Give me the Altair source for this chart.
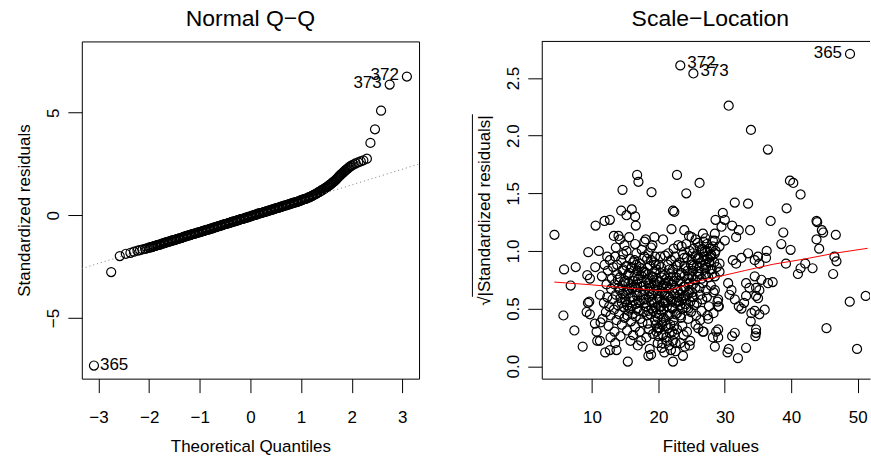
import altair as alt
import pandas as pd

FONT = "Liberation Sans"

# ---------------- Normal Q-Q data ----------------
qq_low_x = [-3.09, -2.75, -2.58, -2.46, -2.37, -2.30, -2.23, -2.18, -2.13, -2.08, -2.04]
qq_low_y = [-7.31, -2.76, -1.98, -1.87, -1.82, -1.77, -1.72, -1.69, -1.66, -1.63, -1.60]

qq_mid_x = [-2.00, -1.96, -1.92, -1.88, -1.84, -1.80, -1.76, -1.72, -1.68, -1.64,
            -1.60, -1.56, -1.52, -1.48, -1.44, -1.40, -1.36, -1.32, -1.28, -1.24,
            -1.20, -1.16, -1.12, -1.08, -1.04, -1.00, -0.96, -0.92, -0.88, -0.84,
            -0.80, -0.76, -0.72, -0.68, -0.64, -0.60, -0.56, -0.52, -0.48, -0.44,
            -0.40, -0.36, -0.32, -0.28, -0.24, -0.20, -0.16, -0.12, -0.08, -0.04,
            0.00, 0.04, 0.08, 0.12, 0.16, 0.20, 0.24, 0.28, 0.32, 0.36,
            0.40, 0.44, 0.48, 0.52, 0.56, 0.60, 0.64, 0.68, 0.72, 0.76,
            0.80, 0.84, 0.88, 0.92, 0.96, 1.00, 1.04, 1.08, 1.12, 1.16,
            1.20, 1.24, 1.28, 1.32, 1.36, 1.40, 1.44, 1.48, 1.52, 1.56,
            1.60, 1.64, 1.68, 1.72, 1.76, 1.80, 1.84, 1.88, 1.92, 1.96, 2.00]
qq_mid_y = [-1.57, -1.55, -1.52, -1.49, -1.45, -1.42, -1.40, -1.36, -1.33, -1.30,
            -1.27, -1.24, -1.21, -1.18, -1.15, -1.12, -1.09, -1.05, -1.02, -0.99,
            -0.96, -0.93, -0.90, -0.87, -0.84, -0.81, -0.78, -0.75, -0.72, -0.69,
            -0.66, -0.63, -0.60, -0.57, -0.53, -0.50, -0.47, -0.44, -0.41, -0.38,
            -0.35, -0.32, -0.29, -0.26, -0.23, -0.20, -0.17, -0.14, -0.11, -0.08,
            -0.05, -0.01, 0.02, 0.05, 0.08, 0.11, 0.14, 0.17, 0.20, 0.23,
            0.26, 0.29, 0.32, 0.35, 0.38, 0.41, 0.45, 0.48, 0.51, 0.54,
            0.57, 0.60, 0.63, 0.66, 0.69, 0.74, 0.77, 0.80, 0.84, 0.88,
            0.93, 0.98, 1.03, 1.09, 1.15, 1.21, 1.27, 1.33, 1.40, 1.47,
            1.55, 1.63, 1.72, 1.82, 1.92, 2.02, 2.11, 2.20, 2.28, 2.36, 2.43]

qq_mid2_x = [-1.98, -1.94, -1.90, -1.86, -1.82, -1.78, -1.74, -1.70, -1.66, -1.62,
             -1.58, -1.54, -1.50, -1.46, -1.42, -1.38, -1.34, -1.30, -1.26, -1.22,
             -1.18, -1.14, -1.10, -1.06, -1.02, -0.98, -0.94, -0.90, -0.86, -0.82,
             -0.78, -0.74, -0.70, -0.66, -0.62, -0.58, -0.54, -0.50, -0.46, -0.42,
             -0.38, -0.34, -0.30, -0.26, -0.22, -0.18, -0.14, -0.10, -0.06, -0.02,
             0.02, 0.06, 0.10, 0.14, 0.18, 0.22, 0.26, 0.30, 0.34, 0.38,
             0.42, 0.46, 0.50, 0.54, 0.58, 0.62, 0.66, 0.70, 0.74, 0.78,
             0.82, 0.86, 0.90, 0.94, 0.98, 1.02, 1.06, 1.10, 1.14, 1.18,
             1.22, 1.26, 1.30, 1.34, 1.38, 1.42, 1.46, 1.50, 1.54, 1.58,
             1.62, 1.66, 1.70, 1.74, 1.78, 1.82, 1.86, 1.90, 1.94, 1.98]
qq_mid2_y = [-1.56, -1.53, -1.50, -1.47, -1.44, -1.41, -1.38, -1.35, -1.31, -1.28,
             -1.26, -1.22, -1.20, -1.16, -1.13, -1.11, -1.07, -1.04, -1.00, -0.98,
             -0.95, -0.91, -0.89, -0.85, -0.83, -0.80, -0.76, -0.74, -0.70, -0.68,
             -0.64, -0.62, -0.58, -0.55, -0.52, -0.49, -0.46, -0.42, -0.40, -0.36,
             -0.34, -0.30, -0.28, -0.24, -0.22, -0.18, -0.16, -0.12, -0.10, -0.06,
             -0.03, 0.00, 0.03, 0.07, 0.10, 0.12, 0.16, 0.18, 0.21, 0.25,
             0.27, 0.30, 0.34, 0.36, 0.40, 0.43, 0.46, 0.49, 0.52, 0.56,
             0.58, 0.62, 0.64, 0.67, 0.71, 0.75, 0.79, 0.82, 0.86, 0.90,
             0.95, 1.00, 1.06, 1.12, 1.18, 1.24, 1.30, 1.36, 1.43, 1.51,
             1.59, 1.67, 1.77, 1.87, 1.97, 2.06, 2.15, 2.24, 2.32, 2.40]

qq_high_x = [2.04, 2.08, 2.13, 2.18, 2.23, 2.30, 2.37, 2.46, 2.58, 2.75, 3.09]
qq_high_y = [2.48, 2.53, 2.58, 2.63, 2.68, 2.76, 3.53, 4.19, 5.10, 6.37, 6.76]

qq_line_x = [-3.33, 3.33]
qq_line_y = [-2.59, 2.50]

qq_lab_left_text = ["365"]
qq_lab_left_x = [-3.09]
qq_lab_left_y = [-7.31]
qq_lab_right_text = ["372", "373"]
qq_lab_right_x = [3.09, 2.75]
qq_lab_right_y = [6.76, 6.37]

qq_x_ticks = [-3, -2, -1, 0, 1, 2, 3]
qq_y_ticks = [-5, 0, 5]

# ---------------- Scale-Location data ----------------
sparse_x = [23.3, 25.27, 48.84, 30.58, 33.93, 36.48, 39.8, 40.3, 41.4, 39.3,
            36.9, 33.5, 31.5, 33.8, 43.8, 43.9, 44.6, 44.8, 43.8, 44.2,
            46.7, 38.8, 38.5, 39.9, 36.3, 46.5, 46.8, 46.3, 42.1, 41.4,
            41.0, 43.2, 39.2, 37.2, 48.8, 51.2, 45.3, 49.9, 4.36, 5.81,
            7.56, 6.8, 5.71, 7.36, 8.61, 9.45, 9.3, 9.6, 9.2, 9.7,
            10.55, 11.05, 10.5, 10.7, 10.8, 11.3, 11.9, 12.7, 12.3, 12.0,
            12.7, 13.3, 13.7, 14.6, 14.4, 15.4, 16.0, 16.5, 16.6, 16.8,
            17.0, 18.97, 22.8, 24.2, 26.2, 22.2, 22.4, 21.97, 23.9, 24.6,
            19.4, 20.7, 23.0, 25.6, 26.7, 28.5, 28.6, 29.7, 30.0, 31.1,
            32.1, 31.7, 18.5, 18.9, 22.2, 21.9, 23.7, 24.0, 24.7, 28.5,
            30.4, 30.6, 31.97, 33.2, 28.7, 29.0, 31.1, 31.5, 33.9, 34.7,
            34.6, 35.2, 36.0, 35.0, 34.7, 35.5, 34.5, 29.1, 28.9, 27.4,
            26.7, 26.0, 32.5, 32.1, 32.9, 33.2]
sparse_y = [2.61, 2.54, 2.71, 2.26, 2.05, 1.88, 1.61, 1.59, 1.49, 1.37,
            1.26, 1.41, 1.42, 1.18, 1.26, 1.25, 1.18, 1.16, 1.10, 1.02,
            1.14, 1.16, 1.06, 1.01, 1.00, 0.95, 0.91, 0.80, 0.89, 0.85,
            0.80, 0.85, 0.89, 0.73, 0.56, 0.61, 0.33, 0.15, 1.14, 0.84,
            0.86, 0.70, 0.44, 0.31, 0.17, 0.99, 0.79, 0.56, 0.47, 0.45,
            1.22, 1.00, 0.86, 0.30, 0.22, 0.38, 1.26, 1.27, 0.95, 0.12,
            0.14, 1.13, 0.14, 1.53, 1.35, 0.04, 1.36, 1.30, 1.22, 1.66,
            1.60, 1.51, 1.66, 1.50, 1.59, 1.35, 1.34, 1.19, 1.18, 1.13,
            1.12, 1.10, 1.05, 1.10, 1.15, 1.15, 1.27, 1.33, 1.27, 1.22,
            1.18, 1.12, 0.09, 0.10, 0.04, 0.14, 0.09, 0.17, 0.18, 0.17,
            0.12, 0.15, 0.07, 0.16, 0.30, 0.25, 0.26, 0.29, 0.39, 0.29,
            0.26, 0.45, 0.49, 0.59, 0.68, 0.75, 0.48, 0.52, 0.56, 0.44,
            0.30, 0.33, 0.50, 0.52, 0.55, 0.61]

cluster_x = [11.2, 11.5, 11.8, 11.9, 12.1, 12.2, 11.6, 12.3,
             12.4, 12.6, 12.7, 12.8, 12.9, 13.0, 12.5, 13.1, 12.8, 13.2,
             13.3, 13.4, 13.5, 13.6, 13.7, 13.8, 13.9, 13.4, 13.6, 14.0, 13.8, 13.5,
             14.1, 14.2, 14.3, 14.4, 14.5, 14.6, 14.7, 14.8, 14.9, 14.3, 14.6, 14.9, 14.2, 14.7,
             15.0, 15.1, 15.2, 15.3, 15.4, 15.5, 15.6, 15.7, 15.8, 15.9, 15.2, 15.5, 15.8, 15.3, 15.9, 15.6,
             16.0, 16.1, 16.2, 16.3, 16.4, 16.5, 16.6, 16.7, 16.8, 16.9, 16.2, 16.5, 16.8, 16.1, 16.6, 16.9,
             17.0, 17.1, 17.2, 17.3, 17.4, 17.5, 17.6, 17.7, 17.8, 17.9, 17.2, 17.5, 17.8, 17.4, 17.9, 17.1, 17.6,
             18.0, 18.1, 18.2, 18.3, 18.4, 18.5, 18.6, 18.7, 18.8, 18.9, 18.2, 18.5, 18.8, 18.3, 18.6, 18.9, 18.1, 18.7,
             19.0, 19.1, 19.2, 19.3, 19.4, 19.5, 19.6, 19.7, 19.8, 19.9, 19.2, 19.5, 19.8, 19.3, 19.6, 19.9, 19.1, 19.7, 19.4,
             20.0, 20.1, 20.2, 20.3, 20.4, 20.5, 20.6, 20.7, 20.8, 20.9, 20.2, 20.5, 20.8, 20.3, 20.6, 20.9, 20.1, 20.4, 20.7, 20.5,
             21.0, 21.1, 21.2, 21.3, 21.4, 21.5, 21.6, 21.7, 21.8, 21.9, 21.2, 21.5, 21.8, 21.3, 21.6, 21.9, 21.1, 21.7,
             22.0, 22.1, 22.2, 22.3, 22.4, 22.5, 22.6, 22.7, 22.8, 22.9, 22.2, 22.5, 22.8, 22.3, 22.6, 22.9, 22.4,
             23.0, 23.1, 23.2, 23.3, 23.4, 23.5, 23.6, 23.7, 23.8, 23.9, 23.3, 23.6, 23.9, 23.2, 23.5, 23.8,
             24.0, 24.1, 24.2, 24.3, 24.4, 24.5, 24.6, 24.7, 24.8, 24.9, 24.3, 24.6, 24.9, 24.2, 24.8,
             25.0, 25.1, 25.2, 25.3, 25.4, 25.5, 25.6, 25.7, 25.8, 25.9, 25.3, 25.6, 25.9, 25.2, 25.8,
             26.0, 26.1, 26.2, 26.3, 26.4, 26.5, 26.6, 26.7, 26.8, 26.9, 26.3, 26.6, 26.9, 26.2, 26.8,
             27.0, 27.1, 27.2, 27.3, 27.4, 27.5, 27.6, 27.7, 27.8, 27.9, 27.3, 27.6, 27.9, 27.1, 27.5,
             28.0, 28.1, 28.2, 28.3, 28.4, 28.6, 28.8, 28.3]
cluster_y = [0.62, 0.78, 0.55, 0.88, 0.47, 0.71, 0.41, 0.60,
             0.83, 0.52, 0.92, 0.44, 0.67, 0.76, 0.35, 0.58, 0.25, 0.86,
             0.49, 0.71, 0.95, 0.62, 0.40, 0.80, 0.53, 0.30, 1.03, 0.68, 0.88, 0.20,
             0.45, 0.77, 0.59, 0.92, 0.36, 0.70, 0.84, 0.51, 1.05, 0.26, 0.63, 0.42, 1.10, 0.97,
             0.74, 0.56, 0.87, 0.31, 0.66, 0.48, 0.81, 0.93, 0.60, 0.39, 1.00, 0.72, 0.22, 0.53, 0.85, 1.12,
             0.68, 0.45, 0.90, 0.57, 0.78, 0.34, 0.64, 0.98, 0.50, 0.83, 0.27, 1.06, 0.71, 0.60, 0.43, 0.18,
             0.76, 0.55, 0.89, 0.41, 0.69, 1.01, 0.62, 0.82, 0.47, 0.95, 0.30, 0.73, 0.58, 0.22, 1.08, 0.86, 0.38,
             0.66, 0.81, 0.52, 0.93, 0.37, 0.72, 0.60, 0.87, 0.45, 1.03, 0.25, 0.98, 0.68, 0.75, 0.32, 0.56, 1.10, 0.15,
             0.62, 0.77, 0.48, 0.90, 0.55, 0.70, 0.36, 0.84, 0.58, 0.42, 0.28, 0.95, 0.74, 0.66, 0.51, 0.20, 1.05, 0.30, 0.82,
             0.60, 0.45, 0.73, 0.52, 0.86, 0.38, 0.64, 0.27, 0.55, 0.79, 0.33, 0.68, 0.42, 0.95, 0.20, 0.57, 0.88, 0.48, 0.70, 0.16,
             0.63, 0.40, 0.76, 0.52, 0.88, 0.33, 0.67, 0.45, 0.80, 0.58, 0.25, 0.98, 0.36, 0.70, 0.18, 0.92, 0.55, 0.29,
             0.71, 0.50, 0.84, 0.40, 0.63, 0.95, 0.55, 0.77, 0.32, 0.88, 0.22, 0.68, 0.46, 1.02, 0.13, 0.60, 0.28,
             0.74, 0.56, 0.90, 0.44, 0.66, 0.81, 0.35, 0.97, 0.59, 0.78, 0.20, 0.50, 0.87, 0.62, 1.04, 0.27,
             0.69, 0.85, 0.51, 0.94, 0.62, 0.41, 0.79, 1.00, 0.56, 0.88, 0.30, 0.72, 0.47, 1.06, 0.22,
             0.92, 0.64, 0.83, 1.02, 0.53, 0.75, 0.96, 0.44, 0.87, 1.07, 0.60, 0.36, 0.78, 0.98, 0.55,
             0.94, 0.80, 1.04, 0.62, 0.90, 0.48, 0.99, 0.72, 1.08, 0.85, 0.40, 0.58, 0.95, 0.68, 0.30,
             1.00, 0.88, 0.66, 1.06, 0.93, 0.77, 0.52, 1.02, 0.84, 0.97, 0.60, 0.90, 0.70, 1.11, 0.41,
             0.96, 0.80, 1.04, 0.64, 0.90, 1.00, 0.86, 0.46]

core_x = [14.2, 14.8, 15.1, 15.4, 15.7, 16.0, 16.3, 16.6, 16.9, 17.2,
          17.5, 17.8, 18.1, 18.4, 18.7, 19.0, 19.3, 19.6, 19.9, 20.2,
          20.5, 20.8, 21.1, 21.4, 21.7, 22.0, 22.3, 22.6, 22.9, 23.2,
          23.5, 23.8, 24.1, 24.4, 24.7, 25.0, 25.3, 25.6, 25.9, 26.2,
          26.5, 26.8, 27.1, 27.4, 27.7, 28.0, 13.9, 14.5, 15.8, 17.0,
          18.3, 19.5, 20.6, 21.5, 22.4, 23.4, 24.5, 16.4, 18.9, 21.0,
          20.0, 21.3, 19.8, 22.1, 20.9, 22.6]
core_y = [0.66, 0.73, 0.62, 0.79, 0.50, 0.86, 0.69, 0.54, 0.75, 0.64,
          0.85, 0.70, 0.58, 0.80, 0.65, 0.50, 0.72, 0.88, 0.63, 0.58,
          0.77, 0.49, 0.69, 0.61, 0.84, 0.56, 0.74, 0.45, 0.66, 0.79,
          0.58, 0.69, 0.61, 0.83, 0.66, 0.78, 0.87, 0.68, 0.93, 0.85,
          0.76, 0.92, 0.80, 1.00, 0.90, 0.84, 0.75, 0.55, 0.70, 0.48,
          0.44, 0.40, 0.36, 0.44, 0.35, 0.42, 0.50, 0.92, 0.92, 0.96,
          0.26, 0.22, 0.33, 0.30, 0.12, 0.20]

core2_x = [15.0, 15.6, 16.2, 16.8, 17.4, 18.0, 18.6, 19.2, 19.8, 20.4,
           21.0, 21.6, 22.2, 22.8, 23.4, 24.0, 24.6, 25.2, 14.6, 15.3,
           16.0, 16.7, 17.3, 17.9, 18.5, 19.1, 19.7, 20.3, 20.9, 21.5,
           22.1, 22.7, 23.3, 23.9, 24.5, 25.1, 26.0, 26.6, 27.2, 27.8]
core2_y = [0.58, 0.67, 0.74, 0.61, 0.79, 0.55, 0.70, 0.63, 0.76, 0.52,
           0.72, 0.60, 0.78, 0.57, 0.73, 0.54, 0.64, 0.71, 0.83, 0.44,
           0.52, 0.88, 0.57, 0.82, 0.48, 0.78, 0.46, 0.81, 0.62, 0.74,
           0.51, 0.87, 0.53, 0.94, 0.76, 0.60, 0.82, 1.02, 0.86, 0.95]

extra_x = [14.0, 15.2, 9.7, 9.4, 10.45, 11.2, 25.0, 28.2, 28.2, 20.0,
           21.2, 29.5, 36.2, 35.0, 35.2, 33.5, 34.5, 32.5, 31.7, 31.2,
           36.5, 30.5, 31.0, 30.7, 31.5, 34.0, 34.7, 35.2, 33.7, 33.2,
           34.5, 29.0, 34.7, 28.5, 29.2, 30.0, 28.5, 29.2, 28.5, 29.2,
           28.5, 29.0, 29.0]
extra_y = [1.13, 1.31, 0.76, 0.55, 0.37, 0.22, 1.12, 1.09, 0.25, 0.33,
           0.35, 1.21, 0.94, 0.95, 0.89, 0.98, 0.92, 0.94, 0.89, 0.92,
           0.72, 0.72, 0.66, 0.62, 0.58, 0.46, 0.61, 0.66, 0.68, 0.72,
           0.78, 0.32, 0.32, 1.09, 1.04, 1.09, 0.98, 0.89, 0.78, 0.82,
           0.66, 0.58, 0.52]

loess_x = [4.34, 9.95, 15.45, 18.5, 20.2, 21.5, 23.2, 25.7, 28.5, 30.0, 33.0, 37.3, 42.0, 46.5, 51.5]
loess_y = [0.73, 0.706, 0.678, 0.664, 0.655, 0.66, 0.685, 0.735, 0.77, 0.79, 0.83, 0.885, 0.93, 0.98, 1.023]

sl_lab_left_text = ["372", "373"]
sl_lab_left_x = [23.3, 25.27]
sl_lab_left_y = [2.61, 2.54]
sl_lab_right_text = ["365"]
sl_lab_right_x = [48.84]
sl_lab_right_y = [2.71]

sl_x_ticks = [10, 20, 30, 40, 50]
sl_y_ticks = [0.0, 0.5, 1.0, 1.5, 2.0, 2.5]

# ---------------- build tables ----------------
qq_df = pd.DataFrame({"x": qq_low_x + qq_mid_x + qq_mid2_x + qq_high_x,
                      "y": qq_low_y + qq_mid_y + qq_mid2_y + qq_high_y})
qq_line_df = pd.DataFrame({"x": qq_line_x, "y": qq_line_y})
qq_lab_l = pd.DataFrame({"x": qq_lab_left_x, "y": qq_lab_left_y, "t": qq_lab_left_text})
qq_lab_r = pd.DataFrame({"x": qq_lab_right_x, "y": qq_lab_right_y, "t": qq_lab_right_text})

sl_df = pd.DataFrame({"x": sparse_x + cluster_x + core_x + core2_x + extra_x,
                      "y": sparse_y + cluster_y + core_y + core2_y + extra_y})
loess_df = pd.DataFrame({"x": loess_x, "y": loess_y})
sl_lab_l = pd.DataFrame({"x": sl_lab_left_x, "y": sl_lab_left_y, "t": sl_lab_left_text})
sl_lab_r = pd.DataFrame({"x": sl_lab_right_x, "y": sl_lab_right_y, "t": sl_lab_right_text})
frame_df = pd.DataFrame({"edge": ["top"]})

W = 338          # full panel width
W2 = 329         # visible part of the right panel (cut by the window edge)
H = 338
TICK = 14
PT = 82          # circle area
SW = 1.2         # circle stroke width
YTITLE_X = -52.5


def x_axis(values, title, fmt, domain):
    return alt.Axis(values=values, title=title, format=fmt, grid=False,
                    domain=domain, domainColor="black", domainWidth=1,
                    tickSize=TICK, tickColor="black", tickWidth=1,
                    labelFont=FONT, labelFontSize=17, labelColor="black",
                    labelAngle=0, labelAlign="center", labelBaseline="alphabetic",
                    labelPadding=30, labelFlush=False, labelOverlap=False,
                    titleFont=FONT, titleFontSize=17, titleFontWeight="normal",
                    titleColor="black", titleAlign="center", titleBaseline="alphabetic",
                    titleX=W / 2, titleY=73)


def y_axis(values, title, fmt, domain):
    return alt.Axis(values=values, title=title, format=fmt, grid=False,
                    domain=domain, domainColor="black", domainWidth=1,
                    tickSize=TICK, tickColor="black", tickWidth=1,
                    labelFont=FONT, labelFontSize=17, labelColor="black",
                    labelAngle=-90, labelAlign="center", labelBaseline="alphabetic",
                    labelPadding=9, labelFlush=False, labelOverlap=False,
                    titleFont=FONT, titleFontSize=17, titleFontWeight="normal",
                    titleColor="black", titleAngle=-90, titleAlign="center",
                    titleBaseline="alphabetic", titleX=YTITLE_X, titleY=H / 2)


def title(text, dx):
    return alt.TitleParams(text=text, font=FONT, fontSize=23, fontWeight="normal",
                           color="black", anchor="middle", frame="group",
                           baseline="alphabetic", offset=-8, dx=dx)


# ---------------- Normal Q-Q panel ----------------
qx = alt.X("x:Q", scale=alt.Scale(domain=[-3.33, 3.33], nice=False, zero=False),
           axis=x_axis(qq_x_ticks, "Theoretical Quantiles", "d", False))
qy = alt.Y("y:Q", scale=alt.Scale(domain=[-7.95, 8.47], nice=False, zero=False),
           axis=y_axis(qq_y_ticks, "Standardized residuals", "d", False))

qq_points = alt.Chart(qq_df).mark_point(
    shape="circle", filled=False, color="black", size=PT, strokeWidth=SW, opacity=1, clip=True
).encode(x=qx, y=qy)
qq_ref = alt.Chart(qq_line_df).mark_line(
    color="#7f7f7f", strokeWidth=1, strokeDash=[1, 3], clip=True
).encode(x=qx, y=qy)
qq_txt_l = alt.Chart(qq_lab_l).mark_text(
    font=FONT, fontSize=17, align="left", baseline="middle", dx=6, color="black"
).encode(x=qx, y=qy, text="t:N")
qq_txt_r = alt.Chart(qq_lab_r).mark_text(
    font=FONT, fontSize=17, align="right", baseline="middle", dx=-8, dy=-2, color="black"
).encode(x=qx, y=qy, text="t:N")

left = alt.layer(qq_points, qq_ref, qq_txt_l, qq_txt_r).properties(
    width=W, height=H, title=title("Normal Q\u2212Q", 0),
    view=alt.ViewBackground(stroke="black", strokeWidth=1))

# ---------------- Scale-Location panel ----------------
x_max = 2.45 + (53.2 - 2.45) * W2 / W
sx = alt.X("x:Q", scale=alt.Scale(domain=[2.45, x_max], nice=False, zero=False),
           axis=x_axis(sl_x_ticks, "Fitted values", "d", True))
sy = alt.Y("y:Q", scale=alt.Scale(domain=[-0.108, 2.818], nice=False, zero=False),
           axis=y_axis(sl_y_ticks, "\u221a|Standardized residuals|", ".1f", True))

sl_points = alt.Chart(sl_df).mark_point(
    shape="circle", filled=False, color="black", size=PT, strokeWidth=SW, opacity=1, clip=True
).encode(x=sx, y=sy)
sl_loess = alt.Chart(loess_df).mark_line(
    color="red", strokeWidth=1, clip=True
).encode(x=sx, y=sy)
sl_txt_l = alt.Chart(sl_lab_l).mark_text(
    font=FONT, fontSize=17, align="left", baseline="middle", dx=7, dy=-2, color="black"
).encode(x=sx, y=sy, text="t:N")
sl_txt_r = alt.Chart(sl_lab_r).mark_text(
    font=FONT, fontSize=17, align="right", baseline="middle", dx=-8, dy=-1, color="black"
).encode(x=sx, y=sy, text="t:N")
# top edge of the plot frame (left and bottom edges are the axis lines)
sl_top = alt.Chart(frame_df).mark_rule(color="black", strokeWidth=1).encode(
    x=alt.value(0), x2=alt.value(W2), y=alt.value(0))
# radical bar over "|Standardized residuals|" in the rotated axis title
sl_radical_bar = alt.Chart(frame_df).mark_rule(color="black", strokeWidth=1).encode(
    x=alt.value(YTITLE_X - 17), y=alt.value(73), y2=alt.value(256))

right = alt.layer(sl_points, sl_loess, sl_txt_l, sl_txt_r, sl_top, sl_radical_bar).properties(
    width=W2, height=H, title=title("Scale\u2212Location", (W - W2) / 2),
    view=alt.ViewBackground(stroke=None))

chart = alt.hconcat(left, right, spacing=123, bounds="flush").properties(
    padding={"left": 15, "top": 7, "right": 0, "bottom": 0},
    background="white",
)

chart.save("out.html", embed_options={"renderer": "svg", "actions": False})
